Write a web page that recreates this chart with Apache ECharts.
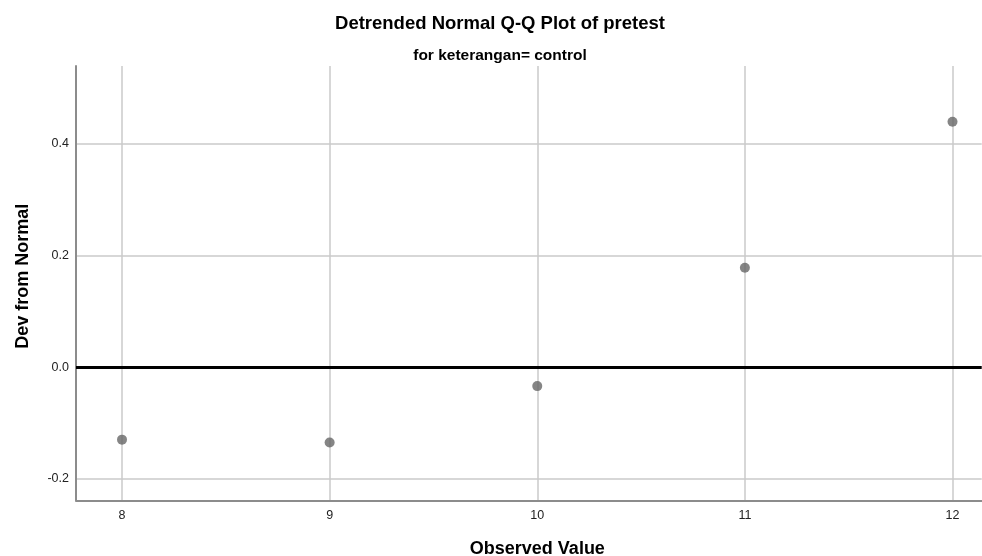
<!DOCTYPE html>
<html>
<head>
<meta charset="utf-8">
<script src="https://cdn.jsdelivr.net/npm/echarts@6/dist/echarts.min.js"></script>
<style>html,body{margin:0;padding:0;background:#fff}#c{width:982px;height:556px}</style>
</head>
<body>
<div id="c"></div>
<script>
const observedValues = [8, 9, 10, 11, 12];
const devFromNormal = [-0.130, -0.135, -0.034, 0.178, 0.440];
const xTicks = [8, 9, 10, 11, 12];
const yTicks = [-0.2, 0.0, 0.2, 0.4];
const titleText = 'Detrended Normal Q-Q Plot of pretest';
const subtitleText = 'for keterangan= control';
const xName = 'Observed Value';
const yName = 'Dev from Normal';

const points = observedValues.map((v, i) => [v, devFromNormal[i]]);
const font = '"Liberation Sans", Arial, sans-serif';

const chart = echarts.init(document.getElementById('c'), null, {renderer: 'canvas'});
chart.setOption({
  backgroundColor: '#ffffff',
  animation: false,
  title: [
    {text: titleText, left: 500, top: 14, textAlign: 'center', padding: 0,
     textStyle: {fontFamily: font, fontSize: 18.5, fontWeight: 'bold', color: '#000'}},
    {text: subtitleText, left: 500, top: 48, textAlign: 'center', padding: 0,
     textStyle: {fontFamily: font, fontSize: 15.5, fontWeight: 'bold', color: '#000'}}
  ],
  grid: {left: 76, top: 66, width: 905.7, height: 434.3, containLabel: false, outerBoundsMode: 'none'},
  xAxis: {
    type: 'value', min: 7.7784, max: 12.1406,
    name: xName, nameLocation: 'middle', nameGap: 40,
    nameTextStyle: {fontFamily: font, fontSize: 18, fontWeight: 'bold', color: '#000', padding: [0, 0, 0, 17]},
    axisLine: {show: true, onZero: false, lineStyle: {color: '#8c8c8c', width: 2}},
    axisTick: {show: false, customValues: xTicks},
    axisLabel: {customValues: xTicks, margin: 9, fontFamily: font, fontSize: 12.5, color: '#222'},
    splitLine: {show: true, lineStyle: {color: '#cacaca', width: 1.5}}
  },
  yAxis: {
    type: 'value', min: -0.2387, max: 0.5398,
    name: yName, nameLocation: 'middle', nameGap: 44,
    nameTextStyle: {fontFamily: font, fontSize: 18, fontWeight: 'bold', color: '#000', padding: [0, 0, 0, 14]},
    axisLine: {show: true, onZero: false, lineStyle: {color: '#8c8c8c', width: 2}},
    axisTick: {show: false, customValues: yTicks},
    axisLabel: {customValues: yTicks, margin: 7, fontFamily: font, fontSize: 12.5, color: '#222',
      formatter: v => v.toFixed(1)},
    splitLine: {show: true, lineStyle: {color: '#cacaca', width: 1.5}}
  },
  series: [{
    type: 'scatter',
    data: points,
    symbol: 'circle',
    symbolSize: 10,
    itemStyle: {color: '#666666'},
    z: 5,
    markLine: {
      silent: true,
      symbol: ['none', 'none'],
      label: {show: false},
      lineStyle: {color: '#000', width: 3, type: 'solid'},
      data: [{yAxis: 0}],
      z: 3
    }
  }]
});
</script>
</body>
</html>
